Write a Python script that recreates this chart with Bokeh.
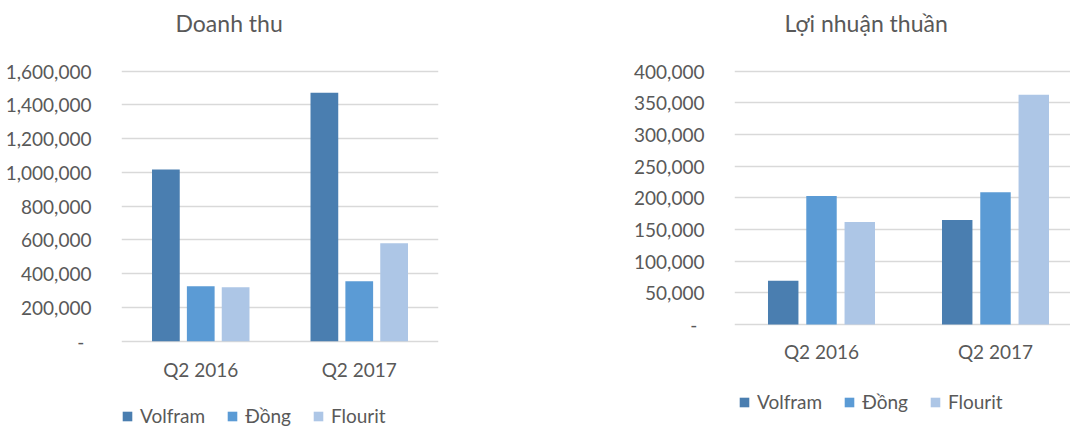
from bokeh.plotting import figure
from bokeh.models import (ColumnDataSource, Range1d, FixedTicker, NumeralTickFormatter,
                          Legend, LegendItem)
from bokeh.layouts import row
from bokeh.transform import dodge
from bokeh.embed import file_html
from bokeh.resources import INLINE

categories = ["Q2 2016", "Q2 2017"]
series = ["Volfram", "Đồng", "Flourit"]

revenue_volfram = [1017000, 1472000]
revenue_dong = [326000, 356000]
revenue_flourit = [320000, 581000]

profit_volfram = [69000, 165000]
profit_dong = [203000, 209000]
profit_flourit = [162000, 363000]

revenue_ticks = [0, 200000, 400000, 600000, 800000, 1000000, 1200000, 1400000, 1600000]
profit_ticks = [0, 50000, 100000, 150000, 200000, 250000, 300000, 350000, 400000]

colors = ["#4a7eb0", "#5b9bd5", "#adc6e6"]
FONT = "Lato"
GREY = "#595959"

HEIGHT = 428
TOP = 36            # title band above the frame
FRAME_H = HEIGHT - TOP
TOP_GRID_PX = 70.7  # pixel row of the highest tick line


def make_chart(title, values, yticks, px_per_unit, width, left, right,
               x_end, title_offset, x_standoff, legend_xy):
    # frame covers the whole height below the title; map the value axis so that
    # the tick lines land where the reference draws them
    y_end = yticks[-1] + (TOP_GRID_PX - TOP) / px_per_unit
    y_start = y_end - FRAME_H / px_per_unit
    xpos = [i + 0.5 for i in range(len(categories))]
    src = ColumnDataSource(dict(x=xpos, s0=values[0], s1=values[1], s2=values[2]))
    p = figure(width=width, height=HEIGHT, output_backend="svg", toolbar_location=None,
               x_range=Range1d(0, x_end), y_range=Range1d(y_start, y_end),
               min_border_left=left, min_border_right=right,
               min_border_top=TOP, min_border_bottom=0)
    p.outline_line_color = None
    p.background_fill_color = "white"
    p.border_fill_color = "white"

    offsets = [-0.22, 0.0, 0.22]
    rends = []
    for k in range(3):
        r = p.vbar(x=dodge("x", offsets[k], range=p.x_range), top="s%d" % k, bottom=0,
                   width=0.175, source=src, fill_color=colors[k], line_color=None)
        rends.append(r)

    p.xgrid.grid_line_color = None
    p.ygrid.grid_line_color = "#d9d9d9"
    p.ygrid.grid_line_width = 1.5
    p.ygrid.ticker = FixedTicker(ticks=yticks)

    p.xaxis.ticker = FixedTicker(ticks=xpos)
    p.xaxis.major_label_overrides = {xpos[i]: categories[i] for i in range(len(categories))}
    p.xaxis.fixed_location = 0
    p.yaxis.ticker = FixedTicker(ticks=yticks)
    p.yaxis.formatter = NumeralTickFormatter(format="0,0")
    p.yaxis.major_label_overrides = {0: "-\u00a0\u2009"}
    for ax in (p.xaxis, p.yaxis):
        ax.axis_line_color = None
        ax.major_tick_line_color = None
        ax.minor_tick_line_color = None
        ax.major_label_text_font = FONT
        ax.major_label_text_font_size = "19px"
        ax.major_label_text_color = GREY
    p.yaxis.major_label_standoff = 24
    p.xaxis.major_label_standoff = x_standoff

    p.title.text = title
    p.title.align = "left"
    p.title.vertical_align = "bottom"
    p.title.offset = title_offset
    p.title.standoff = 0
    p.title.text_font = FONT
    p.title.text_font_size = "23px"
    p.title.text_font_style = "normal"
    p.title.text_color = GREY

    legend = Legend(items=[LegendItem(label=series[k], renderers=[rends[k]]) for k in range(3)],
                    orientation="horizontal", location=legend_xy,
                    border_line_color=None, background_fill_alpha=0,
                    label_text_font=FONT, label_text_font_size="19px",
                    label_text_color=GREY, glyph_width=12, glyph_height=12,
                    label_standoff=7, spacing=21, padding=0, margin=0,
                    label_height=20)
    p.add_layout(legend, "center")
    return p


p1 = make_chart("Doanh thu", [revenue_volfram, revenue_dong, revenue_flourit], revenue_ticks,
                px_per_unit=270 / 1600000, width=508, left=121, right=70,
                x_end=2.0, title_offset=54, x_standoff=11, legend_xy=(0, 1))
p2 = make_chart("Lợi nhuận thuần", [profit_volfram, profit_dong, profit_flourit], profit_ticks,
                px_per_unit=253.3 / 400000, width=562, left=226, right=0,
                x_end=336 / 174, title_offset=50, x_standoff=9, legend_xy=(4, 15))

layout = row(p1, p2)
open("out.html", "w").write(file_html(layout, INLINE))
